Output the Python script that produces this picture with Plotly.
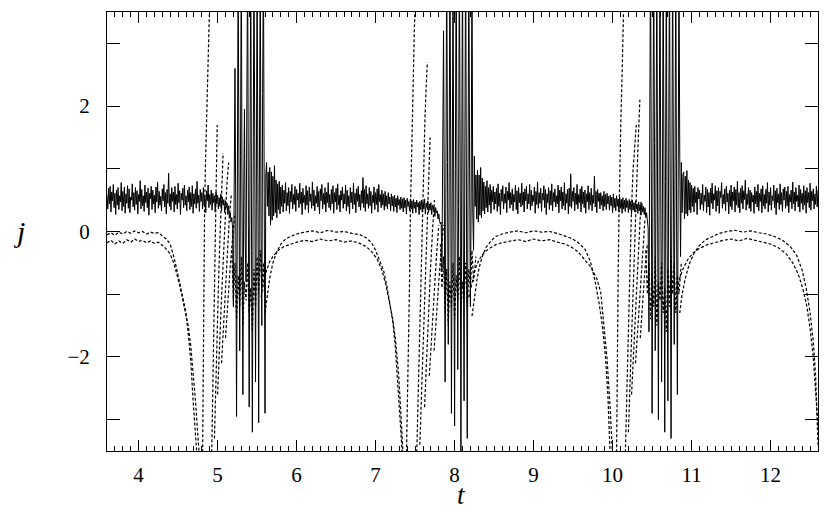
import numpy as np
import plotly.graph_objects as go

SERIF = "Liberation Serif"

# solid curve: segments on a 0.01 grid, each with its own start time
solid_dt = 0.01
solid_starts = [3.60, 5.16, 5.66, 7.83, 8.28, 10.45, 10.90]

solid_quiet_1 = [
    0.58, 0.36, 0.69, 0.44, 0.72, 0.31, 0.63, 0.49, 0.75, 0.38, 0.61, 0.27,
    0.66, 0.42, 0.70, 0.35, 0.57, 0.47, 0.78, 0.33, 0.64, 0.40, 0.71, 0.29,
    0.60, 0.45, 0.73, 0.37, 0.68, 0.30, 0.55, 0.50, 0.76, 0.39, 0.62, 0.34,
    0.70, 0.43, 0.65, 0.28, 0.59, 0.48, 0.81, 0.36, 0.67, 0.41, 0.57, 0.32,
    0.74, 0.46, 0.63, 0.38, 0.69, 0.26, 0.61, 0.52, 0.72, 0.35, 0.66, 0.44,
    0.58, 0.30, 0.71, 0.47, 0.79, 0.37, 0.64, 0.42, 0.56, 0.33, 0.68, 0.49,
    0.75, 0.39, 0.62, 0.28, 0.67, 0.45, 0.93, 0.40, 0.60, 0.34, 0.70, 0.48,
    0.63, 0.31, 0.72, 0.43, 0.59, 0.36, 0.77, 0.46, 0.65, 0.27, 0.61, 0.50,
    0.69, 0.38, 0.74, 0.42, 0.57, 0.33, 0.66, 0.47, 0.71, 0.35, 0.62, 0.40,
    0.73, 0.29, 0.60, 0.44, 0.68, 0.37, 0.80, 0.45, 0.58, 0.32, 0.67, 0.48,
    0.62, 0.36, 0.70, 0.41, 0.56, 0.30, 0.65, 0.49, 0.74, 0.38, 0.59, 0.43,
    0.66, 0.34, 0.61, 0.46, 0.57, 0.31, 0.63, 0.44, 0.58, 0.36, 0.54, 0.40,
    0.60, 0.33, 0.55, 0.42, 0.51, 0.30, 0.49, 0.38, 0.45, 0.27, 0.41, 0.22,
]
solid_burst_1 = [
    0.30, 0.15, 0.22, 0.05,
    -1.2, 0.9, 2.6, 0.3,
    -2.95, 0.6, 4.5, 1.0,
    -1.9, 1.2, 4.5, 0.2,
    -2.6, 0.5, 1.95, -0.2,
    -0.8, 2.0, 4.5, 0.1,
    -2.8, 1.1, 4.5, -0.3,
    -3.2, 0.7, 4.5, 1.5,
    -2.4, 0.4, 4.5, 0.8,
    -3.05, 1.3, 4.5, -0.1,
    -1.5, 2.2, 4.5, 0.6,
    -2.9, 0.9, 1.1, 0.4,
    0.95, 0.25,
]
solid_quiet_2 = [
    1.02, 0.10, 0.95, 0.18, 0.88, 0.25, 1.05, 0.30, 0.82, 0.22, 0.76, 0.35,
    0.80, 0.28, 0.71, 0.40, 0.74, 0.31, 0.66, 0.45, 0.78, 0.33, 0.62, 0.41,
    0.70, 0.29, 0.64, 0.47, 0.75, 0.36, 0.59, 0.43, 0.72, 0.32, 0.67, 0.50,
    0.61, 0.38, 0.77, 0.44, 0.63, 0.27, 0.69, 0.46, 0.58, 0.35, 0.73, 0.42,
    0.65, 0.30, 0.71, 0.48, 0.60, 0.37, 0.79, 0.41, 0.66, 0.33, 0.57, 0.45,
    0.72, 0.39, 0.64, 0.28, 0.68, 0.49, 0.75, 0.36, 0.61, 0.43, 0.70, 0.31,
    0.63, 0.46, 0.78, 0.38, 0.59, 0.34, 0.67, 0.44, 0.73, 0.29, 0.62, 0.47,
    0.69, 0.35, 0.76, 0.42, 0.58, 0.31, 0.65, 0.50, 0.71, 0.37, 0.60, 0.44,
    0.74, 0.33, 0.66, 0.40, 0.57, 0.28, 0.70, 0.46, 0.63, 0.36, 0.77, 0.43,
    0.61, 0.30, 0.68, 0.48, 0.72, 0.39, 0.59, 0.34, 0.65, 0.45, 0.86, 0.38,
    0.67, 0.32, 0.73, 0.44, 0.60, 0.37, 0.70, 0.41, 0.64, 0.29, 0.58, 0.46,
    0.71, 0.35, 0.62, 0.43, 0.68, 0.31, 0.75, 0.47, 0.59, 0.38, 0.66, 0.42,
    0.60, 0.34, 0.64, 0.40, 0.57, 0.36, 0.62, 0.44, 0.55, 0.33, 0.60, 0.41,
    0.56, 0.32, 0.58, 0.39, 0.53, 0.30, 0.57, 0.42, 0.51, 0.35, 0.55, 0.37,
    0.52, 0.31, 0.54, 0.38, 0.50, 0.28, 0.53, 0.40, 0.48, 0.33, 0.52, 0.36,
    0.49, 0.29, 0.51, 0.37, 0.47, 0.30, 0.50, 0.39, 0.46, 0.27, 0.48, 0.35,
    0.50, 0.31, 0.47, 0.36, 0.52, 0.28, 0.45, 0.38, 0.49, 0.30, 0.44, 0.34,
    0.46, 0.27, 0.42, 0.35, 0.40, 0.24, 0.38, 0.30, 0.33, 0.20, 0.28, 0.16,
    0.12,
]
solid_burst_2 = [
    0.15, -0.6, 1.4, 3.2, 0.5,
    -2.4, 0.8, 4.5, 1.1,
    -1.8, 0.3, 4.5, 1.6,
    -2.9, 0.6, 4.5, 0.2,
    -3.1, 1.0, 4.5, 0.9,
    -2.2, 0.4, 4.5, 1.3,
    -3.7, 0.7, 4.5, -0.2,
    -2.7, 1.4, 4.5, 0.5,
    -3.3, 0.8, 4.5, 1.0,
    -1.2, 0.6, 4.5, 0.3,
    -0.3, 1.2, 0.4, 0.9,
]
solid_quiet_3 = [
    0.20, 0.98, 0.15, 0.90, 0.26, 1.02, 0.22, 0.85, 0.33, 0.79, 0.28, 0.72,
    0.38, 0.81, 0.31, 0.70, 0.42, 0.75, 0.29, 0.66, 0.47, 0.72, 0.35, 0.63,
    0.44, 0.69, 0.32, 0.76, 0.40, 0.61, 0.27, 0.67, 0.48, 0.73, 0.36, 0.60,
    0.45, 0.71, 0.30, 0.64, 0.50, 0.78, 0.37, 0.62, 0.43, 0.68, 0.33, 0.59,
    0.47, 0.74, 0.35, 0.65, 0.28, 0.70, 0.46, 0.61, 0.39, 0.77, 0.42, 0.63,
    0.31, 0.68, 0.49, 0.72, 0.36, 0.60, 0.44, 0.75, 0.34, 0.66, 0.41, 0.58,
    0.48, 0.71, 0.29, 0.64, 0.43, 0.79, 0.37, 0.62, 0.45, 0.69, 0.32, 0.61,
    0.50, 0.73, 0.38, 0.67, 0.27, 0.60, 0.46, 0.70, 0.35, 0.65, 0.42, 0.76,
    0.33, 0.62, 0.47, 0.68, 0.39, 0.57, 0.44, 0.74, 0.30, 0.66, 0.49, 0.71,
    0.36, 0.63, 0.41, 0.78, 0.34, 0.60, 0.45, 0.67, 0.28, 0.69, 0.40, 0.92,
    0.37, 0.64, 0.48, 0.70, 0.33, 0.61, 0.43, 0.75, 0.36, 0.59, 0.46, 0.68,
    0.31, 0.72, 0.44, 0.63, 0.38, 0.66, 0.29, 0.60, 0.47, 0.73, 0.35, 0.62,
    0.42, 0.69, 0.33, 0.58, 0.45, 0.88, 0.39, 0.64, 0.30, 0.67, 0.48, 0.61,
    0.36, 0.62, 0.42, 0.57, 0.33, 0.64, 0.40, 0.59, 0.35, 0.61, 0.44, 0.56,
    0.34, 0.58, 0.41, 0.55, 0.30, 0.60, 0.38, 0.53, 0.33, 0.57, 0.40, 0.52,
    0.31, 0.55, 0.37, 0.51, 0.29, 0.54, 0.36, 0.50, 0.32, 0.53, 0.38, 0.49,
    0.30, 0.51, 0.35, 0.48, 0.28, 0.50, 0.34, 0.46, 0.31, 0.49, 0.36, 0.44,
    0.29, 0.47, 0.33, 0.43, 0.26, 0.45, 0.31, 0.40, 0.27, 0.38, 0.22, 0.30,
    0.08,
]
solid_burst_3 = [
    0.05, -1.6, 0.7, 4.5, 1.0,
    -2.9, 0.4, 4.5, 1.4,
    -1.9, 0.9, 4.5, 0.3,
    -3.0, 1.2, 4.5, 0.6,
    -2.4, 0.2, 4.5, 1.1,
    -3.2, 0.8, 4.5, -0.1,
    -2.7, 1.3, 4.5, 0.5,
    -3.3, 0.6, 4.5, 0.9,
    -1.8, 1.0, 4.5, 0.2,
    -2.6, 0.7, 4.5, 1.2,
    -0.4, 1.1, 0.3, 0.9,
]
solid_quiet_4 = [
    0.95, 0.20, 0.88, 0.28, 0.97, 0.25, 0.82, 0.34, 0.78, 0.30, 0.74, 0.40,
    0.69, 0.31, 0.72, 0.46, 0.63, 0.27, 0.70, 0.52, 0.66, 0.35, 0.61, 0.43,
    0.75, 0.33, 0.58, 0.48, 0.71, 0.30, 0.67, 0.39, 0.62, 0.26, 0.69, 0.45,
    0.77, 0.36, 0.60, 0.50, 0.73, 0.32, 0.65, 0.41, 0.70, 0.29, 0.64, 0.54,
    0.78, 0.37, 0.59, 0.44, 0.68, 0.33, 0.72, 0.47, 0.61, 0.28, 0.66, 0.40,
    0.74, 0.35, 0.63, 0.49, 0.71, 0.31, 0.67, 0.42, 0.80, 0.38, 0.62, 0.30,
    0.69, 0.45, 0.73, 0.36, 0.65, 0.51, 0.82, 0.34, 0.60, 0.43, 0.70, 0.37,
    0.66, 0.32, 0.62, 0.47, 0.58, 0.29, 0.71, 0.44, 0.64, 0.39, 0.75, 0.33,
    0.61, 0.48, 0.68, 0.30, 0.73, 0.41, 0.59, 0.36, 0.67, 0.45, 0.78, 0.31,
    0.63, 0.42, 0.70, 0.34, 0.57, 0.49, 0.74, 0.38, 0.65, 0.27, 0.69, 0.46,
    0.60, 0.35, 0.76, 0.43, 0.62, 0.32, 0.68, 0.50, 0.71, 0.37, 0.64, 0.41,
    0.72, 0.30, 0.59, 0.47, 0.66, 0.36, 0.79, 0.44, 0.63, 0.33, 0.70, 0.48,
    0.58, 0.39, 0.74, 0.31, 0.67, 0.45, 0.61, 0.35, 0.73, 0.42, 0.65, 0.29,
    0.70, 0.46, 0.62, 0.38, 0.77, 0.34, 0.64, 0.49, 0.68, 0.36, 0.60, 0.43,
    0.72, 0.39, 0.66,
]
solid_segments = [solid_quiet_1, solid_burst_1, solid_quiet_2, solid_burst_2,
                  solid_quiet_3, solid_burst_3, solid_quiet_4]

# dashed curve, drawn as the strands it visibly splits into (None = break)
upper_t = [
    3.60, 3.65, 3.70, 3.75, 3.80, 3.85, 3.90, 3.95, 4.00, 4.05, 4.10, 4.15, 4.20,
    4.25, 4.30, 4.35, 4.40, 4.45, 4.50, 4.55, 4.60, 4.63, 4.66, 4.69, 4.72, 4.74, None,
    5.60, 5.63, 5.66, 5.70, 5.75, 5.80, 5.86, 5.92, 6.00, 6.10, 6.20, 6.30, 6.40,
    6.50, 6.60, 6.70, 6.80, 6.88, 6.95, 7.00, 7.05, 7.10, 7.14, 7.18, 7.22, 7.25,
    7.28, 7.31, 7.34, None,
    8.22, 8.25, 8.28, 8.31, 8.35, 8.40, 8.46, 8.52, 8.60, 8.70, 8.80, 8.90, 9.00,
    9.10, 9.20, 9.30, 9.38, 9.46, 9.55, 9.65, 9.72, 9.78, 9.83, 9.87, 9.91, 9.94,
    9.97, None,
    10.85, 10.88, 10.92, 10.97, 11.03, 11.10, 11.18, 11.27, 11.35, 11.45, 11.55,
    11.65, 11.75, 11.85, 11.95, 12.05, 12.15, 12.25, 12.33, 12.40, 12.45, 12.50,
    12.54, 12.57, 12.59, 12.60,
]
upper_j = [
    -0.05, -0.02, -0.06, -0.01, -0.04, 0.00, -0.03, 0.01, -0.02, 0.00, -0.04, -0.01, -0.03,
    -0.02, -0.07, -0.12, -0.20, -0.42, -0.70, -1.00, -1.30, -1.65, -2.05, -2.70, -3.20, -3.60, None,
    -1.30, -1.00, -0.74, -0.50, -0.32, -0.20, -0.12, -0.08, -0.04, -0.01, 0.01, -0.02, 0.02,
    -0.01, 0.00, -0.03, -0.05, -0.10, -0.18, -0.30, -0.45, -0.62, -0.85, -1.15, -1.45, -1.85,
    -2.35, -3.00, -3.60, None,
    -1.35, -1.05, -0.80, -0.58, -0.40, -0.25, -0.15, -0.08, -0.04, -0.01, 0.01, -0.02, 0.01,
    -0.01, 0.00, -0.03, -0.06, -0.10, -0.16, -0.28, -0.48, -0.80, -1.15, -1.50, -2.00, -2.60,
    -3.60, None,
    -1.30, -1.00, -0.75, -0.52, -0.35, -0.22, -0.13, -0.07, -0.03, 0.00, 0.02,
    -0.01, 0.01, -0.02, -0.04, -0.08, -0.14, -0.24, -0.38, -0.62, -0.90, -1.30,
    -1.75, -2.30, -3.00, -3.40,
]

lower_t = [
    3.60, 3.65, 3.70, 3.75, 3.80, 3.85, 3.90, 3.95, 4.00, 4.05, 4.10, 4.15, 4.20,
    4.25, 4.30, 4.35, 4.40, 4.45, 4.50, 4.55, 4.59, 4.63, 4.66, 4.69, 4.72, 4.75, 4.77, None,
    5.55, 5.58, 5.62, 5.66, 5.71, 5.77, 5.84, 5.92, 6.00, 6.10, 6.20, 6.30, 6.40,
    6.50, 6.60, 6.70, 6.80, 6.88, 6.95, 7.02, 7.08, 7.13, 7.17, 7.21, 7.25, 7.29,
    7.32, 7.35, None,
    8.18, 8.22, 8.26, 8.31, 8.37, 8.44, 8.52, 8.60, 8.70, 8.80, 8.90, 9.00, 9.10,
    9.20, 9.30, 9.40, 9.48, 9.56, 9.64, 9.72, 9.80, 9.85, 9.89, 9.93, 9.97, 10.00, None,
    10.80, 10.84, 10.89, 10.95, 11.02, 11.10, 11.20, 11.30, 11.40, 11.50, 11.60,
    11.70, 11.80, 11.90, 12.00, 12.10, 12.20, 12.28, 12.35, 12.41, 12.46, 12.50,
    12.54, 12.57, 12.60,
]
lower_j = [
    -0.18, -0.14, -0.20, -0.15, -0.19, -0.13, -0.17, -0.12, -0.16, -0.14, -0.18, -0.15, -0.19,
    -0.17, -0.22, -0.28, -0.36, -0.52, -0.76, -1.02, -1.28, -1.52, -1.82, -2.20, -2.70, -3.25, -3.60, None,
    -1.05, -0.82, -0.62, -0.48, -0.38, -0.30, -0.24, -0.20, -0.17, -0.14, -0.16, -0.12, -0.15,
    -0.13, -0.17, -0.15, -0.19, -0.24, -0.32, -0.44, -0.62, -0.85, -1.08, -1.35, -1.70, -2.25,
    -2.90, -3.60, None,
    -1.05, -0.80, -0.60, -0.45, -0.34, -0.27, -0.21, -0.18, -0.15, -0.13, -0.16, -0.12, -0.15,
    -0.13, -0.17, -0.20, -0.25, -0.32, -0.44, -0.56, -0.75, -0.97, -1.50, -2.03, -2.83, -3.60, None,
    -1.00, -0.78, -0.60, -0.45, -0.34, -0.27, -0.21, -0.17, -0.14, -0.12, -0.15,
    -0.11, -0.14, -0.16, -0.20, -0.26, -0.36, -0.50, -0.68, -0.92, -1.20, -1.55,
    -2.00, -2.55, -3.10,
]

# near-vertical dashed sweeps before each burst
rise_t = [
    4.81, 4.815, 4.82, 4.828, 4.835, 4.845, 4.86, 4.875, 4.89, 4.90, None,
    7.39, 7.405, 7.42, 7.43, 7.44, 7.455, 7.47, 7.48, 7.49, 7.50, None,
    10.05, 10.055, 10.06, 10.07, 10.08, 10.09, 10.105, 10.12, 10.13, 10.14,
]
rise_j = [
    -3.6, -2.6, -1.8, -0.8, 0.3, 1.0, 1.9, 2.6, 3.2, 3.6, None,
    -3.6, -2.6, -1.8, -0.8, 0.3, 1.0, 1.9, 2.6, 3.2, 3.6, None,
    -3.6, -2.6, -1.8, -0.72, 0.2, 0.98, 1.8, 2.5, 3.0, 3.6,
]

# fan of rising dashed arcs between the sweep and the burst
fan_t = [
    4.925, 4.935, 4.945, 4.955, 4.965, 4.975, 4.985, 4.995, None,
    4.96, 4.975, 4.99, 5.01, 5.03, 5.05, 5.07, None,
    5.00, 5.02, 5.045, 5.07, 5.095, 5.12, 5.14, None,
    5.05, 5.075, 5.10, 5.125, 5.15, 5.175, None,
    5.10, 5.13, 5.16, 5.19, 5.22, None,
    7.52, 7.535, 7.55, 7.565, 7.58, 7.595, 7.61, 7.625, 7.64, 7.655, None,
    7.56, 7.58, 7.60, 7.62, 7.64, 7.66, 7.675, 7.69, None,
    7.62, 7.645, 7.67, 7.695, 7.72, 7.745, None,
    7.68, 7.71, 7.74, 7.77, 7.80, None,
    7.74, 7.77, 7.80, 7.83, 7.86, None,
    10.16, 10.175, 10.19, 10.205, 10.22, 10.24, 10.26, 10.28, 10.30, None,
    10.20, 10.22, 10.24, 10.26, 10.28, 10.30, 10.32, 10.345, None,
    10.24, 10.265, 10.29, 10.315, 10.34, 10.36, None,
    10.29, 10.32, 10.35, 10.38, 10.41, None,
    10.35, 10.38, 10.41, 10.44,
]
fan_j = [
    -3.6, -2.8, -2.0, -1.2, -0.4, 0.4, 1.1, 1.7, None,
    -3.3, -2.5, -1.7, -0.9, -0.1, 0.6, 1.25, None,
    -2.6, -1.9, -1.2, -0.5, 0.2, 0.8, 1.1, None,
    -2.1, -1.5, -0.9, -0.3, 0.25, 0.6, None,
    -1.7, -1.1, -0.55, -0.1, 0.3, None,
    -3.6, -2.8, -2.0, -1.2, -0.4, 0.4, 1.1, 1.8, 2.3, 2.7, None,
    -3.4, -2.6, -1.8, -1.0, -0.2, 0.6, 1.1, 1.5, None,
    -2.8, -2.0, -1.3, -0.6, 0.0, 0.5, None,
    -2.3, -1.6, -1.0, -0.4, 0.1, None,
    -1.9, -1.3, -0.8, -0.3, 0.1, None,
    -3.6, -2.8, -2.0, -1.2, -0.4, 0.4, 1.0, 1.4, 1.7, None,
    -3.2, -2.4, -1.6, -0.8, -0.1, 0.6, 1.3, 2.1, None,
    -2.6, -1.9, -1.2, -0.5, 0.1, 0.5, None,
    -2.1, -1.5, -0.9, -0.3, 0.2, None,
    -1.7, -1.1, -0.6, -0.2,
]

# dashed scatter inside the bursts
cloud_t = [
    5.18, 5.20, 5.22, 5.24, 5.26, 5.28, 5.30, 5.32, 5.34, 5.36, 5.38, 5.40,
    5.42, 5.44, 5.46, 5.48, 5.50, 5.52, 5.54, 5.56, 5.58, 5.60, None,
    7.82, 7.84, 7.86, 7.88, 7.90, 7.92, 7.94, 7.96, 7.98, 8.00, 8.02, 8.04,
    8.06, 8.08, 8.10, 8.12, 8.14, 8.16, 8.18, 8.20, 8.22, 8.24, 8.27, None,
    10.42, 10.44, 10.46, 10.48, 10.50, 10.52, 10.54, 10.56, 10.58, 10.60, 10.62,
    10.64, 10.66, 10.68, 10.70, 10.72, 10.74, 10.76, 10.78, 10.80, 10.82, 10.84, 10.87,
]
cloud_j = [
    -0.3, -1.1, -0.5, -1.4, -0.7, -1.2, -0.4, -1.5, -0.8, -1.1, -0.5, -1.3,
    -0.9, -1.6, -0.6, -1.2, -0.4, -1.0, -0.3, -0.9, -0.5, -1.2, None,
    -0.2, -0.9, -0.4, -1.3, -0.6, -1.5, -0.8, -1.2, -0.5, -1.4, -0.7, -1.1,
    -0.4, -1.3, -0.8, -1.0, -0.5, -1.2, -0.6, -0.9, -0.3, -0.8, -0.4, None,
    -0.3, -1.0, -0.5, -1.4, -0.7, -1.2, -0.4, -1.5, -0.8, -1.1, -0.5,
    -1.3, -0.9, -1.6, -0.6, -1.2, -0.4, -1.0, -0.5, -1.3, -0.7, -1.0, -0.5,
]

solid_t = np.concatenate([start + solid_dt * np.arange(len(seg))
                          for start, seg in zip(solid_starts, solid_segments)])
solid_j = np.concatenate([np.asarray(seg, dtype=float) for seg in solid_segments])

fig = go.Figure()
fig.add_trace(go.Scatter(
    x=solid_t, y=solid_j, mode="lines",
    line=dict(color="black", width=1),
    showlegend=False, hoverinfo="skip",
))
for xs, ys in [(upper_t, upper_j), (lower_t, lower_j), (rise_t, rise_j),
               (fan_t, fan_j), (cloud_t, cloud_j)]:
    fig.add_trace(go.Scatter(
        x=xs, y=ys, mode="lines", connectgaps=False,
        line=dict(color="black", width=1.2, dash="3px,2px"),
        showlegend=False, hoverinfo="skip",
    ))

axis_common = dict(
    showline=True, linecolor="black", linewidth=1, mirror="allticks",
    ticks="inside", tickcolor="black", tickwidth=1,
    showgrid=False, zeroline=False, automargin=False,
    tickfont=dict(family=SERIF, size=21, color="black"),
)
fig.update_xaxes(
    range=[3.6, 12.6], tick0=0, dtick=1, ticklen=11,
    minor=dict(dtick=0.1, ticklen=5, ticks="inside", tickcolor="black"),
    ticklabelstandoff=5,
    **axis_common,
)
fig.update_yaxes(
    range=[-3.5, 3.5], tickmode="array",
    tickvals=[-3, -2, -1, 0, 1, 2, 3],
    ticktext=["", "\u22122", "", "0", "", "2", ""],
    ticklen=13, ticklabelstandoff=12,
    **axis_common,
)
fig.add_annotation(
    text="<i>t</i>", xref="paper", yref="paper", x=0.498, y=0,
    yshift=-44, xanchor="center", yanchor="middle", showarrow=False,
    font=dict(family=SERIF, size=27, color="black"),
)
fig.add_annotation(
    text="<i>j</i>", xref="paper", yref="paper", x=0, y=0.5,
    xshift=-88, xanchor="center", yanchor="middle", showarrow=False,
    font=dict(family=SERIF, size=30, color="black"),
)
# the page body adds an 8px offset, so the margins are trimmed by that much
fig.update_layout(
    width=830, height=510,
    margin=dict(l=99, r=20, t=4, b=67),
    plot_bgcolor="white", paper_bgcolor="white",
)
fig.write_html("out.html")
